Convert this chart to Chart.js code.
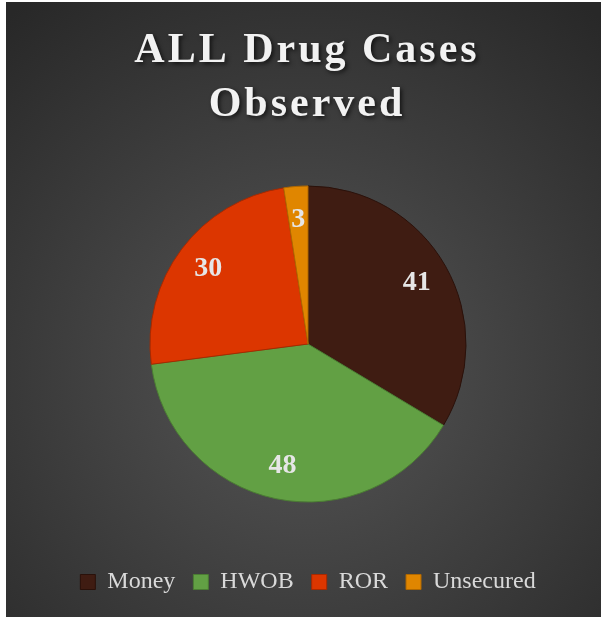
<!DOCTYPE html>
<html>
<head>
<meta charset="utf-8">
<script src="https://cdn.jsdelivr.net/npm/chart.js@4/dist/chart.umd.min.js"></script>
<style>
	body { margin: 0; background: #fff; }
	#caixa { position: absolute; left: 6px; top: 2px; width: 595px; height: 615px; }
</style>
</head>
<body>
<div id="caixa"><canvas id="graficoCasos"></canvas></div>
<script>
var categorias = ['Money', 'HWOB', 'ROR', 'Unsecured'];
var casos = [41, 48, 30, 3];
var linhasTitulo = ['ALL Drug Cases', 'Observed'];

var cores = ['#3f1c12', '#62a044', '#dc3600', '#e08600'];
var bordas = ['#2a110a', '#4b7d33', '#a82900', '#b06800'];
var fonteSerif = '"Liberation Serif", "DejaVu Serif", serif';

// fundo cinza com gradiente radial
var fundo = {
	id: 'fundo',
	beforeDraw: function(chart) {
		var ctx = chart.ctx;
		var w = chart.width, h = chart.height;
		var g = ctx.createRadialGradient(w / 2, h * 0.6, 0, w / 2, h * 0.6, h * 0.75);
		g.addColorStop(0, '#565656');
		g.addColorStop(1, '#282828');
		ctx.save();
		ctx.fillStyle = g;
		ctx.fillRect(0, 0, w, h);
		ctx.restore();
	}
};

// título em duas linhas, espaçado e com sombra
var titulo = {
	id: 'titulo',
	afterDraw: function(chart) {
		var ctx = chart.ctx;
		var x = (chart.chartArea.left + chart.chartArea.right) / 2;
		ctx.save();
		ctx.font = 'bold 42px ' + fonteSerif;
		ctx.letterSpacing = '3px';
		ctx.textAlign = 'center';
		ctx.textBaseline = 'alphabetic';
		ctx.fillStyle = '#f2f2f2';
		ctx.shadowColor = 'rgba(0,0,0,0.65)';
		ctx.shadowBlur = 4;
		ctx.shadowOffsetX = 2;
		ctx.shadowOffsetY = 2;
		linhasTitulo.forEach(function(t, i) {
			ctx.fillText(t, x - 1, 60 + i * 54);
		});
		ctx.restore();
	}
};

// valores dentro das fatias
var rotulos = {
	id: 'rotulos',
	afterDatasetsDraw: function(chart) {
		var ctx = chart.ctx;
		var meta = chart.getDatasetMeta(0);
		ctx.save();
		ctx.font = 'bold 28px ' + fonteSerif;
		ctx.textAlign = 'center';
		ctx.textBaseline = 'middle';
		ctx.fillStyle = '#e6e6e6';
		meta.data.forEach(function(arco, i) {
			var p = arco.getProps(['x', 'y', 'startAngle', 'endAngle', 'outerRadius'], true);
			var meio = (p.startAngle + p.endAngle) / 2;
			var r = p.outerRadius * 0.79;
			ctx.fillText(String(casos[i]), p.x + Math.cos(meio) * r, p.y + Math.sin(meio) * r);
		});
		ctx.restore();
	}
};

var grafico = new Chart(document.getElementById('graficoCasos'), {
	type: 'pie',
	data: {
		labels: categorias,
		datasets: [{
			data: casos,
			backgroundColor: cores,
			borderColor: bordas,
			borderWidth: 1,
			radius: 158
		}]
	},
	options: {
		responsive: true,
		maintainAspectRatio: false,
		animation: false,
		layout: { padding: { top: 134, bottom: 13, left: 9, right: 0 } },
		plugins: {
			tooltip: { enabled: false },
			legend: {
				position: 'bottom',
				labels: {
					boxWidth: 15,
					boxHeight: 15,
					padding: 18,
					color: '#d9d9d9',
					font: { family: fonteSerif, size: 24 }
				}
			}
		}
	},
	plugins: [fundo, titulo, rotulos]
});
</script>
</body>
</html>
